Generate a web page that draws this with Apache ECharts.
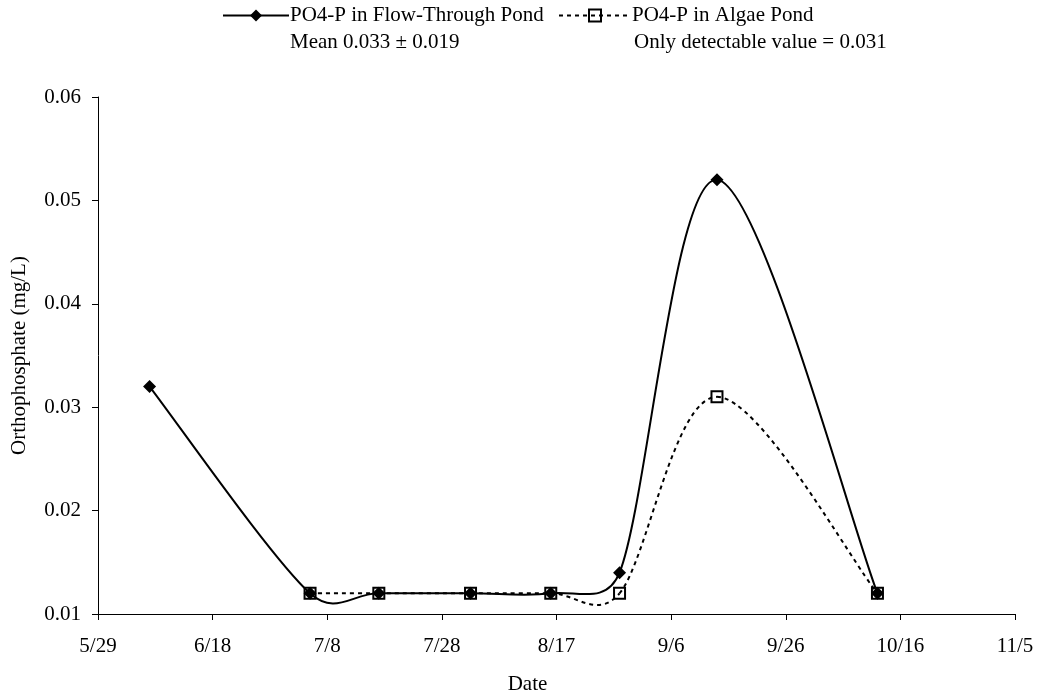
<!DOCTYPE html>
<html>
<head>
<meta charset="utf-8">
<script src="https://cdn.jsdelivr.net/npm/echarts@6/dist/echarts.min.js"></script>
<style>html,body{margin:0;padding:0;background:#fff}#c{width:1041px;height:696px}</style>
</head>
<body>
<div id="c"></div>
<script>
// Data
const flowDates = ['6/7', '7/5', '7/17', '8/2', '8/16', '8/28', '9/14', '10/12'];
const flowValues = [0.032, 0.012, 0.012, 0.012, 0.012, 0.014, 0.052, 0.012];
const algaeDates = ['7/5', '7/17', '8/2', '8/16', '8/28', '9/14', '10/12'];
const algaeValues = [0.012, 0.012, 0.012, 0.012, 0.012, 0.031, 0.012];
const flowName = 'PO4-P in Flow-Through Pond';
const algaeName = 'PO4-P in Algae Pond';
const flowNote = 'Mean 0.033 \u00b1 0.019';
const algaeNote = 'Only detectable value = 0.031';
const yTicks = [0.01, 0.02, 0.03, 0.04, 0.05, 0.06];

const YEAR = 2005;
const DAY = 86400000;
const origin = Date.UTC(YEAR, 4, 29); // 5/29
function dayOf(s) {
  const [m, d] = s.split('/').map(Number);
  return (Date.UTC(YEAR, m - 1, d) - origin) / DAY;
}
function labelOf(v) {
  const dt = new Date(origin + Math.round(v) * DAY);
  return (dt.getUTCMonth() + 1) + '/' + dt.getUTCDate();
}
const flowData = flowDates.map((d, i) => [dayOf(d), flowValues[i]]);
const algaeData = algaeDates.map((d, i) => [dayOf(d), algaeValues[i]]);

// Spreadsheet-style smoothed curve: cubic Bezier segments through the data points,
// control points from neighbouring points (pixel space via api.coord), tension 1/6
// capped to half the segment length.
function dist(a, b) { return Math.hypot(b[0] - a[0], b[1] - a[1]); }
function curveRenderer(data, dash) {
  return function (params, api) {
    const i = params.dataIndex;
    if (i >= data.length - 1) return null;
    const P = k => api.coord(data[Math.max(0, Math.min(data.length - 1, k))]);
    const p0 = P(i - 1), p1 = P(i), p2 = P(i + 1), p3 = P(i + 2);
    const d12 = dist(p1, p2), d02 = dist(p0, p2), d13 = dist(p1, p3);
    const f0 = d02 > 0 ? Math.min(1 / 6, d12 / 2 / d02) : 0;
    const f1 = d13 > 0 ? Math.min(1 / 6, d12 / 2 / d13) : 0;
    return {
      type: 'bezierCurve',
      silent: true,
      shape: {
        x1: p1[0], y1: p1[1], x2: p2[0], y2: p2[1],
        cpx1: p1[0] + (p2[0] - p0[0]) * f0, cpy1: p1[1] + (p2[1] - p0[1]) * f0,
        cpx2: p2[0] - (p3[0] - p1[0]) * f1, cpy2: p2[1] - (p3[1] - p1[1]) * f1
      },
      style: {stroke: '#000', lineWidth: 2, fill: null, lineDash: dash}
    };
  };
}

const FONT = 'Liberation Serif, Times New Roman, serif';
const FS = 21;
const chart = echarts.init(document.getElementById('c'), null, {renderer: 'canvas'});
chart.setOption({
  animation: false,
  backgroundColor: '#fff',
  textStyle: {fontFamily: FONT, color: '#000'},
  grid: {left: 98, right: 26, top: 97, bottom: 82, containLabel: false, outerBoundsMode: 'none'},
  legend: [
    {
      data: [flowName], left: 222, top: 5, padding: 0, itemWidth: 66, itemHeight: 15, itemGap: 0,
      lineStyle: {color: '#000', width: 2, opacity: 1, type: 'solid'},
      textStyle: {fontFamily: FONT, fontSize: FS, color: '#000', padding: [0, 0, 0, -4]}
    },
    {
      data: [algaeName], left: 558, top: 5, padding: 0, itemWidth: 72, itemHeight: 15, itemGap: 0,
      lineStyle: {color: '#000', width: 2, opacity: 1, type: [4, 4]},
      textStyle: {fontFamily: FONT, fontSize: FS, color: '#000', padding: [0, 0, 0, -4]}
    }
  ],
  graphic: [
    {type: 'text', left: 290, top: 32, style: {text: flowNote, font: FS + 'px ' + FONT, fill: '#000'}},
    {type: 'text', left: 634, top: 32, style: {text: algaeNote, font: FS + 'px ' + FONT, fill: '#000'}}
  ],
  xAxis: {
    type: 'value', min: 0, max: 160, interval: 20,
    name: 'Date', nameLocation: 'middle', nameGap: 60,
    nameTextStyle: {fontFamily: FONT, fontSize: FS, color: '#000', padding: [0, 58, 0, 0]},
    axisLine: {show: true, lineStyle: {color: '#000', width: 1}},
    axisTick: {show: true, length: 6, lineStyle: {color: '#000'}},
    splitLine: {show: false},
    axisLabel: {fontFamily: FONT, fontSize: FS, color: '#000', margin: 22, formatter: labelOf}
  },
  yAxis: {
    type: 'value', min: yTicks[0], max: yTicks[yTicks.length - 1], interval: 0.01,
    name: 'Orthophosphate (mg/L)', nameLocation: 'middle', nameGap: 68,
    nameTextStyle: {fontFamily: FONT, fontSize: FS, color: '#000'},
    axisLine: {show: true, lineStyle: {color: '#000', width: 1}},
    axisTick: {show: true, length: 6, lineStyle: {color: '#000'}},
    splitLine: {show: false},
    axisLabel: {fontFamily: FONT, fontSize: FS, color: '#000', margin: 17, formatter: v => v.toFixed(2)}
  },
  series: [
    {
      name: '_flowCurve', type: 'custom', data: flowData, encode: {x: 0, y: 1},
      renderItem: curveRenderer(flowData, null), silent: true, z: 1
    },
    {
      name: '_algaeCurve', type: 'custom', data: algaeData, encode: {x: 0, y: 1},
      renderItem: curveRenderer(algaeData, [4, 4]), silent: true, z: 1
    },
    {
      name: flowName, type: 'line', data: flowData,
      symbol: 'diamond', symbolSize: 13, z: 3,
      itemStyle: {color: '#000'},
      lineStyle: {color: '#000', width: 2, opacity: 0}
    },
    {
      name: algaeName, type: 'line', data: algaeData,
      symbol: 'rect', symbolSize: 11, z: 4,
      itemStyle: {color: 'rgba(0,0,0,0)', borderColor: '#000', borderWidth: 2},
      lineStyle: {color: '#000', width: 2, opacity: 0}
    }
  ]
});
</script>
</body>
</html>
